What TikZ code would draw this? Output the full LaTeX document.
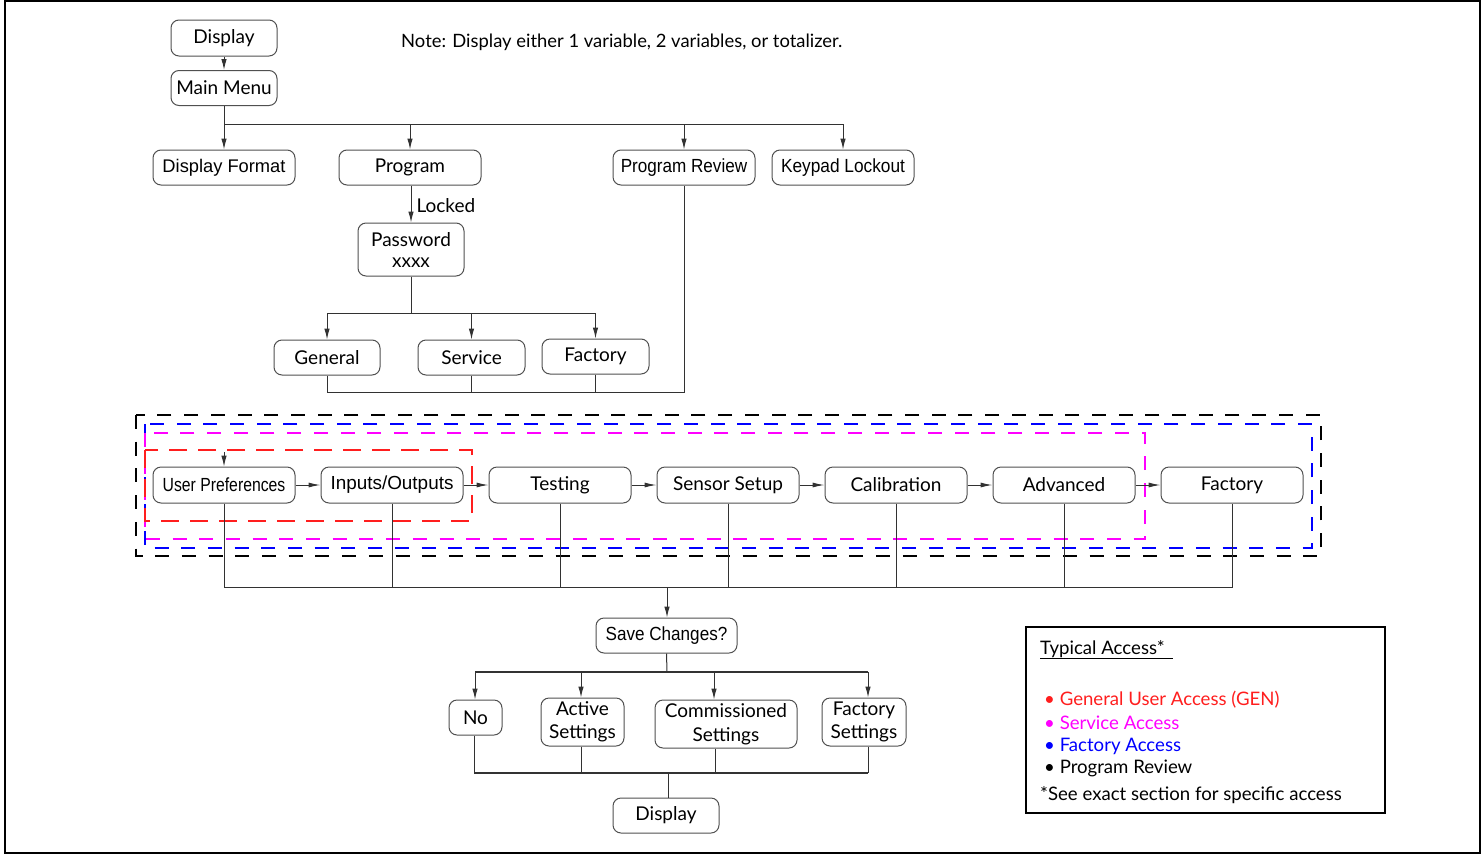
\documentclass[tikz,border=0pt]{standalone}
\usepackage{fontspec}
\setmainfont{Lato}
\newfontfamily\arialf{Liberation Sans}
\usetikzlibrary{arrows.meta}
\definecolor{lred}{RGB}{255,30,30}
\definecolor{lmag}{RGB}{255,0,255}
\definecolor{lblue}{RGB}{0,0,255}
\definecolor{edge}{RGB}{80,80,80}
\definecolor{wire}{RGB}{50,50,50}
\tikzset{
  box/.style={draw=edge, line width=1pt, rounded corners=8pt, inner sep=0pt, align=center,
    font=\fontsize{19}{23}\selectfont},
  wline/.style={draw=wire, line width=1pt},
  arr/.style={wline, -{Latex[length=11pt,width=5.5pt]}},
  harr/.style={wline, -{Latex[length=12pt,width=5pt]}},
  dsh/.style={line width=1.6pt, dash pattern=on 14pt off 12.7pt},
  lgd/.style={anchor=base west, inner sep=0pt, font=\fontsize{18.6}{22}\selectfont}
}
\begin{document}
\begin{tikzpicture}[x=1pt,y=-1pt]
\useasboundingbox (0,0) rectangle (1482,854);
\draw[line width=2pt] (5,1) rectangle (1480,853);

% top part
\node[box, minimum width=106pt, minimum height=36pt] (disp) at (224,38) {Display};
\node[box, minimum width=106pt, minimum height=35pt] (mm) at (224,88) {Main Menu};
\node[box, minimum width=142pt, minimum height=35pt, font=\arialf\fontsize{18.3}{22}\selectfont] (df) at (224,167.5) {Display Format};
\node[box, minimum width=142pt, minimum height=35pt] (prog) at (410,167.5) {Program};
\node[box, minimum width=142pt, minimum height=35pt, font=\arialf\fontsize{19}{22}\selectfont] (pr) at (684,167.5) {\scalebox{0.9}[1]{Program Review}};
\node[box, minimum width=142pt, minimum height=35pt, font=\arialf\fontsize{19}{22}\selectfont] (kl) at (843,167.5) {\scalebox{0.91}[1]{Keypad Lockout}};
\node[anchor=west, inner sep=0pt, font=\fontsize{18.4}{22}\selectfont] (note) at (401,42) {Note: Display either 1 variable, 2 variables, or totalizer.};

\draw[arr] (disp) -- (mm);
\coordinate (b1) at (224,124);
\coordinate (b1e) at (843,124);
\draw[wline] (mm.south) -- (b1) -- (b1e);
\draw[arr] (b1) -- (df);
\draw[arr] (b1 -| prog) -- (prog);
\draw[arr] (b1 -| pr) -- (pr);
\draw[arr] (b1e) -- (kl);

\node[box, minimum width=106pt, minimum height=53pt, font=\fontsize{19}{21}\selectfont] (pw) at (411,249.5) {Password\\xxxx};
\draw[arr] (prog.south -| pw) -- (pw.north) node[pos=0.55, right=5pt, inner sep=0pt, font=\fontsize{19}{22}\selectfont] (lk) {Locked};

\node[box, minimum width=106pt, minimum height=35pt] (gen) at (327,357.5) {General};
\node[box, minimum width=107pt, minimum height=35pt] (svc) at (471.5,357.5) {Service};
\node[box, minimum width=107pt, minimum height=35pt] (fac) at (595.5,356.5) {Factory};
\coordinate (b2) at (411,313);
\draw[wline] (pw.south) -- (b2);
\draw[wline] (b2 -| gen) -- (b2 -| fac);
\draw[arr] (b2 -| gen) -- (gen);
\draw[arr] (b2 -| svc) -- (svc);
\draw[arr] (b2 -| fac) -- (fac);
\coordinate (b3) at (684,392);
\draw[wline] (gen.south) -- (gen.south |- b3) -- (b3) -- (pr.south);
\draw[wline] (svc.south) -- (svc.south |- b3);
\draw[wline] (fac.south) -- (fac.south |- b3);

% dashed access boxes
\draw[dsh, black] (136,415) rectangle (1321,556);
\draw[dsh, lblue] (145,424) rectangle (1312,548);
\draw[dsh, lmag] (145,433) rectangle (1145,539);
\draw[dsh, lred, dash pattern=on 18pt off 11pt] (145,450) rectangle (472,521);

% menu row
\node[box, minimum width=142pt, minimum height=36pt, font=\arialf\fontsize{19}{22}\selectfont] (up) at (224,485) {\scalebox{0.83}[1]{User Preferences}};
\node[box, minimum width=142pt, minimum height=36pt, font=\arialf\fontsize{18.9}{22}\selectfont] (io) at (392,485) {Inputs/Outputs};
\node[box, minimum width=142pt, minimum height=36pt] (tst) at (560,485) {Testing};
\node[box, minimum width=142pt, minimum height=36pt] (ss) at (728,485) {Sensor Setup};
\node[box, minimum width=142pt, minimum height=36pt] (cal) at (896,485) {Calibration};
\node[box, minimum width=142pt, minimum height=36pt] (adv) at (1064,485) {Advanced};
\node[box, minimum width=142pt, minimum height=36pt] (fct) at (1232,485) {Factory};
\coordinate (upin) at (224,452);
\draw[arr] (upin) -- (up);
\draw[harr] (up) -- (io);
\draw[harr] (io) -- (tst);
\draw[harr] (tst) -- (ss);
\draw[harr] (ss) -- (cal);
\draw[harr] (cal) -- (adv);
\draw[harr] (adv) -- (fct);

\coordinate (b4) at (667,587);
\draw[wline] (up.south) -- (up.south |- b4) -- (fct.south |- b4) -- (fct.south);
\foreach \n in {io,tst,ss,cal,adv} \draw[wline] (\n.south) -- (\n.south |- b4);

\node[box, minimum width=141pt, minimum height=35pt, font=\arialf\fontsize{19}{22}\selectfont] (sc) at (666.5,635.5) {\scalebox{0.9}[1]{Save Changes?}};
\draw[arr] (b4) -- (b4 |- sc.north);

% save branch
\node[box, minimum width=53pt, minimum height=35pt] (no) at (475.5,717.5) {No};
\node[box, minimum width=83pt, minimum height=48pt, font=\fontsize{19}{23}\selectfont] (act) at (582.5,722) {Active\\Settings};
\node[box, minimum width=142pt, minimum height=48pt, font=\fontsize{19}{24}\selectfont] (com) at (726,724) {Commissioned\\Settings};
\node[box, minimum width=84pt, minimum height=48pt, font=\fontsize{19}{23}\selectfont] (fs) at (864,722) {Factory\\Settings};
\coordinate (b5) at (667,672);
\coordinate (b5a) at (475,672);
\coordinate (b5b) at (581,672);
\coordinate (b5c) at (714,672);
\coordinate (b5d) at (868,672);
\draw[wline] (sc.south) -- (b5);
\draw[draw=wire, line width=1.6pt] (b5a) -- (b5d);
\draw[arr] (b5a) -- (b5a |- no.north);
\draw[arr] (b5b) -- (b5b |- act.north);
\draw[arr] (b5c) -- (b5c |- com.north);
\draw[arr] (b5d) -- (b5d |- fs.north);

\node[box, minimum width=106pt, minimum height=35pt] (disp2) at (666,815.5) {Display};
\coordinate (b6a) at (474,773);
\coordinate (b6b) at (581,773);
\coordinate (b6c) at (715,773);
\coordinate (b6d) at (868,773);
\coordinate (b6) at (668,773);
\draw[draw=wire, line width=1.6pt] (b6a) -- (b6d);
\draw[wline] (b6a |- no.south) -- (b6a);
\draw[wline] (b6b |- act.south) -- (b6b);
\draw[wline] (b6c |- com.south) -- (b6c);
\draw[wline] (b6d |- fs.south) -- (b6d);
\draw[wline] (b6) -- (b6 |- disp2.north);

% legend
\node[draw=black, line width=1.5pt, minimum width=359pt, minimum height=186pt, inner sep=0pt] (lg) at (1205.5,720) {};
\node[lgd] (lt) at (1040,654) {Typical Access*};
\draw[line width=1pt] (1040,658) -- (1173,658);
\node[lgd, text=lred] (l1) at (1044,705) {\textbullet\ General User Access (GEN)};
\node[lgd, text=lmag] (l2) at (1044,729) {\textbullet\ Service Access};
\node[lgd, text=lblue] (l3) at (1044,751) {\textbullet\ Factory Access};
\node[lgd] (l4) at (1044,773) {\textbullet\ Program Review};
\node[lgd] (l5) at (1040,800) {*See exact section for specific access};
\end{tikzpicture}
\end{document}
